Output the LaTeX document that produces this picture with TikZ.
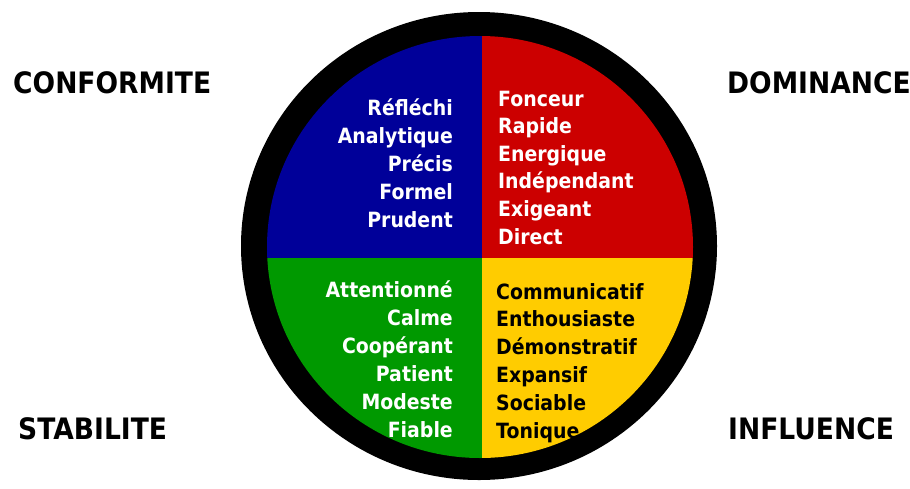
\documentclass[tikz,border=0pt]{standalone}
\usepackage{fontspec}
\newfontfamily\discfont{DejaVu Sans}[FakeStretch=0.9]
\definecolor{discblue}{RGB}{0,0,153}
\definecolor{discred}{RGB}{204,0,0}
\definecolor{discgreen}{RGB}{0,153,0}
\definecolor{discyellow}{RGB}{255,204,0}
\tikzset{
  trait/.style={font=\discfont\bfseries\fontsize{21}{25}\selectfont, inner sep=0pt},
  pole/.style={font=\discfont\bfseries\fontsize{29.5}{32}\selectfont, inner sep=0pt, anchor=base west}
}

\begin{document}
\begin{tikzpicture}[x=1pt, y=-1pt]
    \useasboundingbox (0,0) rectangle (910,488);

    % disc and its four quarters
    \fill[black] (479,246) ellipse [x radius=238pt, y radius=234pt];
    \begin{scope}
      \clip (480,247) ellipse [x radius=213pt, y radius=211pt];
      \fill[discblue] (200,0) rectangle (482,258);
      \fill[discred] (482,0) rectangle (750,258);
      \fill[discgreen] (200,258) rectangle (482,488);
      \fill[discyellow] (482,258) rectangle (750,488);
    \end{scope}

    \foreach \w [count=\i] in {Réfléchi,Analytique,Précis,Formel,Prudent}
      \node[trait, text=white, anchor=base east] (conf\i) at (453,{87+28*\i}) {\w};
    \foreach \w [count=\i] in {Fonceur,Rapide,Energique,Indépendant,Exigeant,Direct}
      \node[trait, text=white, anchor=base west] (dom\i) at (498,{78.4+27.6*\i}) {\w};
    \foreach \w [count=\i] in {Attentionné,Calme,Coopérant,Patient,Modeste,Fiable}
      \node[trait, text=white, anchor=base east] (stab\i) at (453,{269+28*\i}) {\w};
    \foreach \w [count=\i] in {Communicatif,Enthousiaste,Démonstratif,Expansif,Sociable,Tonique}
      \node[trait, text=black, anchor=base west] (infl\i) at (496,{271.2+27.8*\i}) {\w};

    \node[pole] (conformite) at (13,93) {CONFORMITE};
    \node[pole] (dominance) at (727,93) {DOMINANCE};
    \node[pole] (stabilite) at (18,439) {STABILITE};
    \node[pole] (influence) at (728,439) {INFLUENCE};
\end{tikzpicture}
\end{document}
